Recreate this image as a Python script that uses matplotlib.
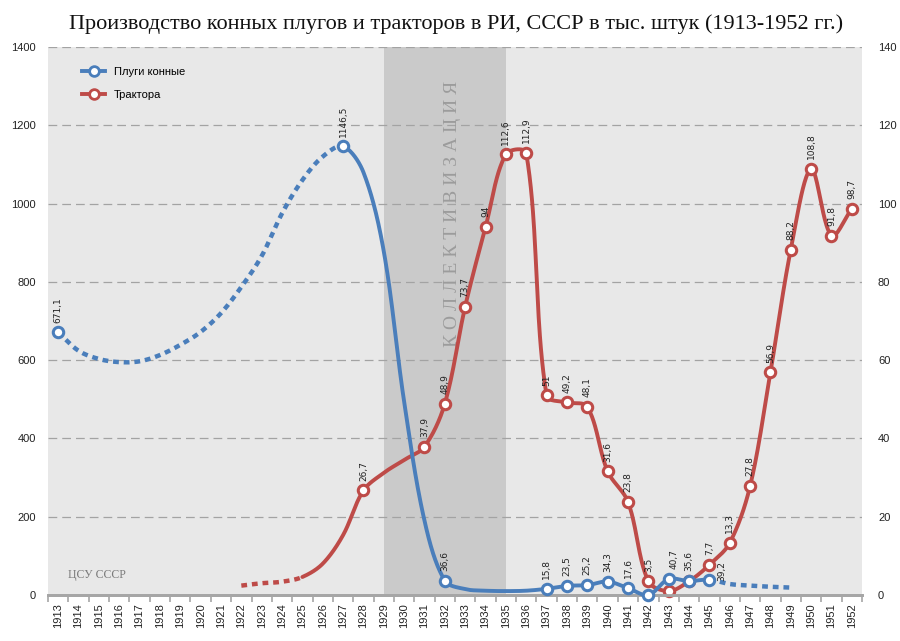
import numpy as np
import matplotlib
matplotlib.use("Agg")
import matplotlib.pyplot as plt
from matplotlib.lines import Line2D

# ---------------- data ----------------
years = list(range(1913, 1953))

plough_years = list(range(1913, 1950))
plough_values = [671.1, 624, 603, 595, 597, 613, 639, 672, 720, 787,
                 866, 975, 1060, 1120, 1146.5, 1080, 878, 494, 190, 36.6,
                 15, 11, 10, 11, 15.8, 23.5, 25.2, 34.3, 17.6, 0,
                 40.7, 35.6, 39.2, 28, 24, 21, 19]
plough_marked = [1913, 1927, 1932, 1937, 1938, 1939, 1940, 1941, 1942,
                 1943, 1944, 1945]
plough_labels = {1913: "671,1", 1927: "1146,5", 1932: "36,6", 1937: "15,8",
                 1938: "23,5", 1939: "25,2", 1940: "34,3", 1941: "17,6",
                 1943: "40,7", 1944: "35,6", 1945: "39,2"}
plough_solid_from, plough_solid_to = 1927, 1945

tractor_years = list(range(1922, 1953))
tractor_values = [2.4, 3.0, 3.4, 4.6, 8.0, 15.3, 26.7, 31.2, 34.5, 37.9,
                  48.9, 73.7, 94, 112.6, 112.9, 51, 49.2, 48.1, 31.6, 23.8,
                  3.5, 1, 3.5, 7.7, 13.3, 27.8, 56.9, 88.2, 108.8, 91.8, 98.7]
tractor_marked = [1928] + list(range(1931, 1953))
tractor_labels = {1928: "26,7", 1931: "37,9", 1932: "48,9", 1933: "73,7",
                  1934: "94", 1935: "112,6", 1936: "112,9", 1937: "51",
                  1938: "49,2", 1939: "48,1", 1940: "31,6", 1941: "23,8",
                  1942: "3,5", 1943: "1", 1945: "7,7", 1946: "13,3",
                  1947: "27,8", 1948: "56,9", 1949: "88,2", 1950: "108,8",
                  1951: "91,8", 1952: "98,7"}
tractor_solid_from = 1925

collect_from, collect_to = 1929, 1935

left_ticks = [0, 200, 400, 600, 800, 1000, 1200, 1400]
right_ticks = [0, 20, 40, 60, 80, 100, 120, 140]

title = "Производство конных плугов и тракторов в РИ, СССР в тыс. штук (1913-1952 гг.)"

BLUE = "#4a7ebb"
RED = "#be4b48"


def smooth(axis, xs, ys, n=40):
    """Excel-like smoothed line: Bezier segments in display space."""
    T = axis.transData
    P = T.transform(np.column_stack([xs, ys]).astype(float))
    N = len(P)
    Pm = np.vstack([P[0], P, P[-1]])
    d = Pm[2:] - Pm[:-2]
    seg = np.linalg.norm(P[1:] - P[:-1], axis=1)
    t = np.linspace(0, 1, n, endpoint=False)[:, None]
    pts, par = [], []
    for i in range(N - 1):
        L = seg[i]
        Lp = seg[i - 1] if i > 0 else 0.0
        Ln = seg[i + 1] if i + 1 < N - 1 else 0.0
        c1 = P[i] + d[i] * (L / (Lp + L)) / 3.0
        c2 = P[i + 1] - d[i + 1] * (L / (L + Ln)) / 3.0
        B = ((1 - t) ** 3 * P[i] + 3 * (1 - t) ** 2 * t * c1
             + 3 * (1 - t) * t ** 2 * c2 + t ** 3 * P[i + 1])
        pts.append(B)
        par.append(i + t[:, 0])
    pts.append(P[-1][None])
    par.append(np.array([N - 1.0]))
    data = T.inverted().transform(np.vstack(pts))
    return data, np.concatenate(par)


def idx(y):
    return years.index(y)


fig = plt.figure(figsize=(9, 6.41), dpi=100)
ax2 = fig.add_axes([48 / 900, 46 / 641, 814 / 900, 548 / 641])
ax = ax2.twinx()
ax2.yaxis.tick_right()
ax.yaxis.tick_left()
ax.set_zorder(ax2.get_zorder() + 1)
ax.patch.set_visible(False)
ax2.set_facecolor("#e8e8e8")

for a in (ax, ax2):
    a.set_xlim(-0.5, len(years) - 0.5)
    for s in ("top", "left", "right"):
        a.spines[s].set_visible(False)
    a.spines["bottom"].set_color("#a6a6a6")
    a.spines["bottom"].set_linewidth(2)

ax.set_ylim(0, 1400)
ax2.set_ylim(0, 140)

# background band
ax2.axvspan(idx(collect_from), idx(collect_to), color="#cacaca", zorder=0.2, lw=0)

# grid / y ticks
ax2.set_yticks(right_ticks)
ax.set_yticks(left_ticks)
ax2.yaxis.grid(True, color="#a3a3a3", lw=0.9, ls=(0, (7, 4)), zorder=0.5)
ax2.set_axisbelow(True)
ax.tick_params(axis="y", length=0, pad=8.5, labelsize=8, labelcolor="#222222")
ax2.tick_params(axis="y", length=0, pad=11.5, labelsize=8, labelcolor="#222222")
for lab in ax.get_yticklabels() + ax2.get_yticklabels():
    lab.set_family("Liberation Sans")

# x axis
xpos = np.arange(len(years))
ax2.set_xticks(xpos)
ax2.set_xticklabels([str(y) for y in years], rotation=90, fontsize=8,
                    family="Liberation Sans", color="#222222")
ax2.set_xticks(np.arange(len(years) + 1) - 0.5, minor=True)
ax2.tick_params(axis="x", which="major", length=0, pad=6)
ax2.tick_params(axis="x", which="minor", length=5, width=1.2, color="#a6a6a6")
ax.tick_params(axis="x", which="both", bottom=False, labelbottom=False,
               top=False, labeltop=False)

dot_ls = (0, (1.3, 1.1))

# ---- tractors (right axis) ----
tx = [idx(y) for y in tractor_years]
curve, par = smooth(ax2, tx, tractor_values)
b = tractor_years.index(tractor_solid_from)
m1 = par <= b + 1e-9
ax2.plot(curve[m1, 0], curve[m1, 1], color=RED, lw=3.2, ls=dot_ls,
         dash_capstyle="butt", zorder=3)
m2 = par >= b - 1e-9
ax2.plot(curve[m2, 0], curve[m2, 1], color=RED, lw=2.8, zorder=3,
         solid_capstyle="round")
mx = [idx(y) for y in tractor_marked]
my = [tractor_values[tractor_years.index(y)] for y in tractor_marked]
ax2.plot(mx, my, ls="none", marker="o", ms=7.5, mfc="white", mec=RED,
         mew=2.2, zorder=4, clip_on=False)
for y, s in tractor_labels.items():
    v = tractor_values[tractor_years.index(y)]
    ax2.annotate(s, (idx(y), v), xytext=(0, 7), textcoords="offset points",
                 rotation=90, ha="center", va="bottom", fontsize=6.5,
                 family="DejaVu Sans", color="#222222", zorder=5)

ax2.text(19.4, 131.5, "К О Л Л Е К Т И В И З А Ц И Я",
         rotation=90, ha="center", va="top", fontsize=14,
         family="Liberation Serif", color="#9c9c9c", zorder=1)
ax2.text(0.5, 5.0, "ЦСУ СССР", ha="left", va="center", fontsize=8.5,
         family="Liberation Serif", color="#7a7a7a", zorder=1)

# ---- ploughs (left axis) ----
px = [idx(y) for y in plough_years]
curve, par = smooth(ax, px, plough_values)
s0 = plough_years.index(plough_solid_from)
s1 = plough_years.index(plough_solid_to)
dot_kw = dict(color=BLUE, lw=3.2, ls=dot_ls, dash_capstyle="butt", zorder=3)
mA = par <= s0 + 1e-9
ax.plot(curve[mA, 0], curve[mA, 1], **dot_kw)
mB = (par >= s0 - 1e-9) & (par <= s1 + 1e-9)
ax.plot(curve[mB, 0], curve[mB, 1], color=BLUE, lw=2.8, zorder=3,
        solid_capstyle="round", clip_on=False)
mC = par >= s1 - 1e-9
ax.plot(curve[mC, 0], curve[mC, 1], **dot_kw)
mx = [idx(y) for y in plough_marked]
my = [plough_values[plough_years.index(y)] for y in plough_marked]
ax.plot(mx, my, ls="none", marker="o", ms=7.5, mfc="white", mec=BLUE,
        mew=2.2, zorder=4, clip_on=False)
for y, s in plough_labels.items():
    v = plough_values[plough_years.index(y)]
    off, ha = (0, 7), "center"
    if y == 1945:
        off, ha = (6, -1), "left"
    elif y == 1943:
        off = (4, 7)
    ax.annotate(s, (idx(y), v), xytext=off, textcoords="offset points",
                rotation=90, ha=ha, va="bottom", fontsize=6.5,
                family="DejaVu Sans", color="#222222", zorder=5)

# legend
h1 = Line2D([], [], color=BLUE, lw=2.8, marker="o", ms=7, mfc="white", mec=BLUE, mew=2)
h2 = Line2D([], [], color=RED, lw=2.8, marker="o", ms=7, mfc="white", mec=RED, mew=2)
ax.legend([h1, h2], ["Плуги конные", "Трактора"], loc="upper left",
          bbox_to_anchor=(0.03, 0.982), frameon=False, handlelength=2.0,
          labelspacing=1.15, prop={"family": "Liberation Sans", "size": 8},
          handletextpad=0.8)

fig.text(0.507, 0.962, title, ha="center", va="center", fontsize=16,
         family="Liberation Serif", color="#111111")

fig.savefig("out.png", dpi=100, facecolor="white")
